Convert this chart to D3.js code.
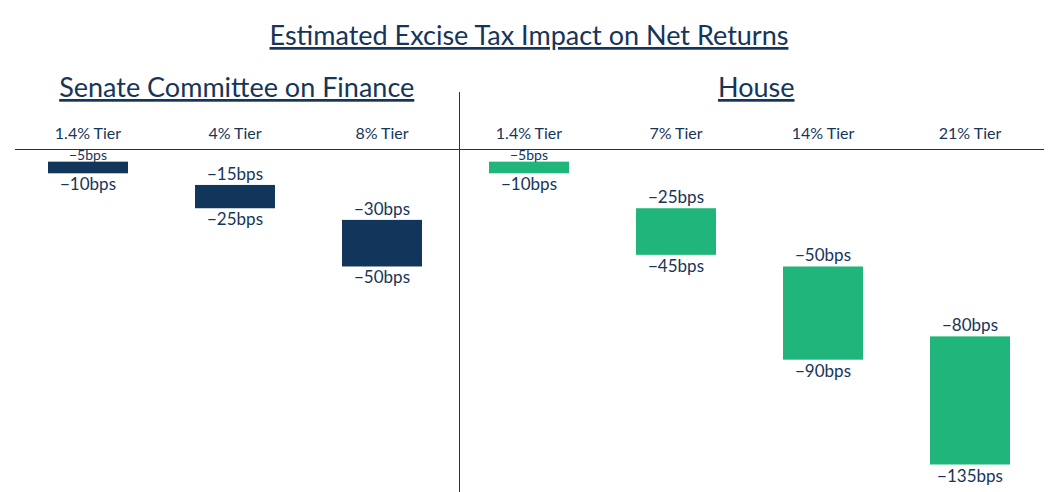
<!DOCTYPE html>
<html>
<head>
<meta charset="utf-8">
<script src="https://cdn.jsdelivr.net/npm/d3@7"></script>
<style>
    body { margin: 0; background: #fff; }
    text { font-family: "Lato", "Open Sans", sans-serif; fill: #15355a; }
</style>
</head>
<body>
<div id="chart"></div>
<script>
// tiers, in display order (senate first, then house)
const tiers = ["S 1.4% Tier", "S 4% Tier", "S 8% Tier", "H 1.4% Tier", "H 7% Tier", "H 14% Tier", "H 21% Tier"];
const tierLabels = ["1.4% Tier", "4% Tier", "8% Tier", "1.4% Tier", "7% Tier", "14% Tier", "21% Tier"];
const groups = ["senate", "senate", "senate", "house", "house", "house", "house"];
// impact range in bps (low end, high end)
const lowImpact = [-5, -15, -30, -5, -25, -50, -80];
const highImpact = [-10, -25, -50, -10, -45, -90, -135];

const groupNames = { senate: "Senate Committee on Finance", house: "House" };
const colors = { senate: "#12355b", house: "#20b57a" };

let width = 1058, height = 492;

let svg = d3.select("#chart").append("svg")
    .attr("width", width)
    .attr("height", height);

let xScale = d3.scaleBand()
    .domain(tiers)
    .range([14.5, 1043.5])
    .paddingInner(0.456)
    .paddingOuter(0.228);

let yScale = d3.scaleLinear()
    .domain([0, -135])
    .range([150, 464.5]);

let rows = tiers.map((t, i) => {
    return { key: t, label: tierLabels[i], group: groups[i], lo: lowImpact[i], hi: highImpact[i] };
});

// title
svg.append("text")
    .attr("x", width / 2)
    .attr("y", 45)
    .attr("text-anchor", "middle")
    .attr("font-size", 27)
    .attr("text-decoration", "underline")
    .text("Estimated Excise Tax Impact on Net Returns");

// divider between the two proposals
let divX = (xScale("S 8% Tier") + xScale.bandwidth() + xScale("H 1.4% Tier")) / 2 + 3.5;

svg.append("line")
    .attr("x1", divX).attr("x2", divX)
    .attr("y1", 92).attr("y2", height)
    .attr("stroke", "#15355a")
    .attr("stroke-width", 1)
    .attr("shape-rendering", "crispEdges");

// zero line
svg.append("line")
    .attr("x1", xScale.range()[0]).attr("x2", xScale.range()[1])
    .attr("y1", yScale(0) - 0.5).attr("y2", yScale(0) - 0.5)
    .attr("stroke", "#15355a")
    .attr("stroke-width", 1)
    .attr("shape-rendering", "crispEdges");

// group headings, centred on each half
let halves = {
    senate: (xScale.range()[0] + divX) / 2,
    house: (divX + xScale.range()[1]) / 2 + 5
};

Object.keys(groupNames).forEach((g) => {
    svg.append("text")
        .attr("x", halves[g])
        .attr("y", 97)
        .attr("text-anchor", "middle")
        .attr("font-size", 27)
        .attr("text-decoration", "underline")
        .text(groupNames[g]);
});

// tier labels
svg.selectAll(".tier")
    .data(rows)
    .enter().append("text")
    .attr("class", "tier")
    .attr("x", (d) => xScale(d.key) + xScale.bandwidth() / 2)
    .attr("y", 139)
    .attr("text-anchor", "middle")
    .attr("font-size", 16)
    .text((d) => d.label);

// floating bars
svg.selectAll(".bar")
    .data(rows)
    .enter().append("rect")
    .attr("class", "bar")
    .attr("x", (d) => xScale(d.key))
    .attr("width", xScale.bandwidth())
    .attr("y", (d) => yScale(d.lo))
    .attr("height", (d) => yScale(d.hi) - yScale(d.lo))
    .attr("fill", (d) => colors[d.group]);

// upper labels (smaller when squeezed against the zero line)
svg.selectAll(".lo")
    .data(rows)
    .enter().append("text")
    .attr("class", "lo")
    .attr("x", (d) => xScale(d.key) + xScale.bandwidth() / 2)
    .attr("y", (d) => yScale(d.lo) - (d.lo > -10 ? 2 : 5))
    .attr("text-anchor", "middle")
    .attr("font-size", (d) => d.lo > -10 ? 14 : 17)
    .text((d) => "\u2212" + Math.abs(d.lo) + "bps");

// lower labels
svg.selectAll(".hi")
    .data(rows)
    .enter().append("text")
    .attr("class", "hi")
    .attr("x", (d) => xScale(d.key) + xScale.bandwidth() / 2)
    .attr("y", (d) => yScale(d.hi) + 17)
    .attr("text-anchor", "middle")
    .attr("font-size", 17)
    .text((d) => "\u2212" + Math.abs(d.hi) + "bps");
</script>
</body>
</html>
